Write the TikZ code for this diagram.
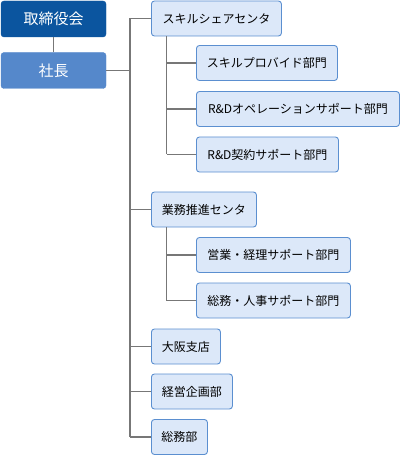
\documentclass[tikz,border=0pt]{standalone}
\usepackage{fontspec}
\setmainfont{Noto Sans CJK JP}
\usepackage{tikz}
\usetikzlibrary{calc}
\definecolor{boardblue}{HTML}{0B559F}
\definecolor{presblue}{HTML}{5588CB}
\definecolor{boxfill}{HTML}{DCE8F9}
\definecolor{boxline}{HTML}{5B8FD0}
\definecolor{linkgray}{HTML}{777777}

\begin{document}
\begin{tikzpicture}[x=1pt,y=-1pt,
    top/.style={rounded corners=3pt,draw=#1,fill=#1,text=white,font=\fontsize{15}{16}\selectfont,minimum width=105pt,minimum height=36pt,inner sep=0pt},
    unit/.style={rounded corners=3pt,draw=boxline,fill=boxfill,line width=0.9pt,font=\fontsize{12}{13}\selectfont,minimum height=35pt,inner sep=0pt,anchor=west,minimum width=#1},
    link/.style={draw=linkgray,line width=1.3pt}]
            \useasboundingbox (0,0) rectangle (400,457);
            % left side
            \node[top=boardblue] (board) at (53.5,19) {取締役会};
            \node[top=presblue] (pres) at (53.5,70.5) {社長};
            % centres and departments
            \node[unit=130pt] (ssc) at (151,18.5) {スキルシェアセンタ};
            \node[unit=141pt] (ssc1) at (196,63) {スキルプロバイド部門};
            \node[unit=203pt] (ssc2) at (196,109) {R\&Dオペレーションサポート部門};
            \node[unit=142pt] (ssc3) at (196,154.5) {R\&D契約サポート部門};
            \node[unit=105pt] (bpc) at (151,209.5) {業務推進センタ};
            \node[unit=154pt] (bpc1) at (196,255) {営業・経理サポート部門};
            \node[unit=154pt] (bpc2) at (196,300.5) {総務・人事サポート部門};
            \node[unit=69pt] (osaka) at (151,346.5) {大阪支店};
            \node[unit=81pt] (plan) at (151,391.5) {経営企画部};
            \node[unit=56pt] (admin) at (151,437) {総務部};
            % trunk lines
            \coordinate (trunk) at (130,0);
            \coordinate (sub) at (166.5,0);
            \draw[link] (board) -- (pres);
            \draw[link] (pres.east) -- (pres.east -| trunk);
            \draw[link] (ssc.west -| trunk) -- (admin.west -| trunk);
            \foreach \n in {ssc,bpc,osaka,plan,admin}
                \draw[link] (\n.west -| trunk) -- (\n.west);
            \draw[link] (ssc.south -| sub) -- (ssc3.west -| sub);
            \draw[link] (bpc.south -| sub) -- (bpc2.west -| sub);
            \foreach \n in {ssc1,ssc2,ssc3,bpc1,bpc2}
                \draw[link] (\n.west -| sub) -- (\n.west);
        \end{tikzpicture}
\end{document}
